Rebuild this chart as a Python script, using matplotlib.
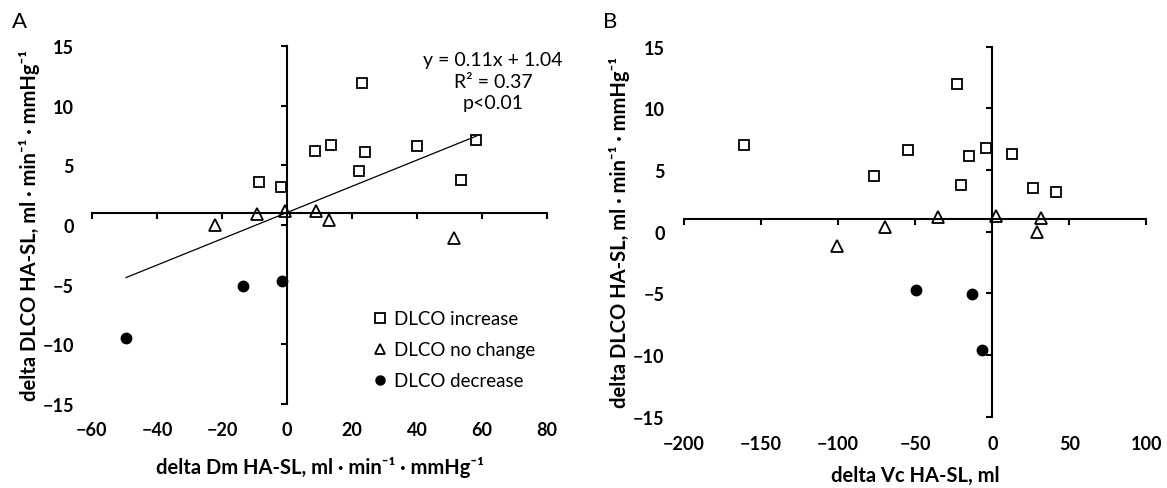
import matplotlib
matplotlib.use('Agg')
import matplotlib.pyplot as plt
import numpy as np

plt.rcParams['font.family'] = ['Lato', 'DejaVu Sans']

# panel A: delta Dm vs delta DLCO
a_inc_x = [-8.6, -1.9, 8.5, 13.7, 22.1, 23.2, 23.9, 39.9, 53.7, 58.3]
a_inc_y = [3.6, 3.2, 6.2, 6.7, 4.5, 11.9, 6.1, 6.6, 3.8, 7.1]
a_nc_x = [-22.0, -9.2, -0.5, 8.8, 12.8, 51.5]
a_nc_y = [0.0, 0.9, 1.2, 1.2, 0.4, -1.1]
a_dec_x = [-49.5, -13.6, -1.4]
a_dec_y = [-9.5, -5.1, -4.7]
slope, intercept = 0.11, 1.04

# panel B: delta Vc vs delta DLCO
b_inc_x = [-161, -76.8, -54.6, -22.6, -20.6, -15.2, -4.2, 13.1, 26.5, 41.2]
b_inc_y = [7.0, 4.5, 6.6, 12.0, 3.8, 6.1, 6.8, 6.3, 3.5, 3.2]
b_nc_x = [-100.6, -69.7, -35.5, 2.3, 29.1, 31.9]
b_nc_y = [-1.2, 0.4, 1.2, 1.3, 0.0, 1.1]
b_dec_x = [-49.6, -13.1, -6.6]
b_dec_y = [-4.7, -5.1, -9.6]

y_ticks = [-15, -10, -5, 0, 5, 10, 15]
a_xticks = [-60, -40, -20, 0, 20, 40, 60, 80]
b_xticks = [-200, -150, -100, -50, 0, 50, 100]

ylab = 'delta DLCO HA-SL, ml \u00b7 min\u207b\u00b9 \u00b7 mmHg\u207b\u00b9'

fig = plt.figure(figsize=(11.67, 4.89), dpi=100)
axA = fig.add_axes([0.0788, 0.1718, 0.3899, 0.7321])
axB = fig.add_axes([0.5861, 0.1462, 0.3963, 0.7563])


def style(ax, xticks, pad_x, pad_y):
    ax.set_xlim(xticks[0], xticks[-1])
    ax.set_ylim(-15, 15)
    ax.set_xticks(xticks)
    ax.set_yticks(y_ticks)
    # axes cross at x=0, y=1
    ax.spines['left'].set_position(('data', 0))
    ax.spines['bottom'].set_position(('data', 1))
    ax.spines[['top', 'right']].set_visible(False)
    ax.spines[['left', 'bottom']].set_linewidth(1.5)
    ax.tick_params(labelleft=False, labelbottom=False, direction='out',
                   length=4, width=1.5)
    # tick labels sit on the outer edges
    sx = ax.secondary_xaxis('bottom')
    sx.set_xticks(xticks)
    sx.spines['bottom'].set_visible(False)
    sx.tick_params(length=0, pad=pad_x, labelsize=13)
    sy = ax.secondary_yaxis('left')
    sy.set_yticks(y_ticks)
    sy.spines['left'].set_visible(False)
    sy.tick_params(length=0, pad=pad_y, labelsize=13)
    for lbl in sx.get_xticklabels() + sy.get_yticklabels():
        lbl.set_fontweight('bold')
    return sx, sy


mk = dict(linestyle='none', color='black')

# ---- A ----
sxA, syA = style(axA, a_xticks, 12, 13)
axA.plot(a_inc_x, a_inc_y, marker='s', ms=7.5, mfc='white', mew=1.3,
         label='DLCO increase', **mk)
axA.plot(a_nc_x, a_nc_y, marker='^', ms=8, mfc='white', mew=1.3,
         label='DLCO no change', **mk)
axA.plot(a_dec_x, a_dec_y, marker='o', ms=7.5, label='DLCO decrease', **mk)
all_x = np.array(a_inc_x + a_nc_x + a_dec_x)
fit_x = np.array([all_x.min(), all_x.max()])
axA.plot(fit_x, slope * fit_x + intercept, color='black', lw=0.9)
axA.text(0.881, 0.985, 'y = %.2fx + %.2f\nR\u00b2 = 0.37\np<0.01' % (slope, intercept),
         transform=axA.transAxes, ha='center', va='top', fontsize=14,
         linespacing=1.3)
leg = axA.legend(loc='upper left', bbox_to_anchor=(0.605, 0.283), frameon=False,
                 fontsize=13.5, handlelength=0.6, handletextpad=0.45,
                 labelspacing=0.75, borderaxespad=0)
for h in leg.legend_handles:
    h.set_markersize(6.5)
sxA.set_xlabel('delta Dm HA-SL, ml \u00b7 min\u207b\u00b9 \u00b7 mmHg\u207b\u00b9',
               fontsize=14.5, fontweight='bold', labelpad=13)
syA.set_ylabel(ylab, fontsize=14.5, fontweight='bold', labelpad=2)
fig.text(0.0163, 0.955, 'A', fontsize=16, ha='center', va='center')

# ---- B ----
sxB, syB = style(axB, b_xticks, 13, 14)
axB.plot(b_inc_x, b_inc_y, marker='s', ms=7.5, mfc='white', mew=1.3, **mk)
axB.plot(b_nc_x, b_nc_y, marker='^', ms=8, mfc='white', mew=1.3, **mk)
axB.plot(b_dec_x, b_dec_y, marker='o', ms=7.5, **mk)
sxB.set_xlabel('delta Vc HA-SL, ml', fontsize=14.5, fontweight='bold', labelpad=10)
syB.set_ylabel(ylab, fontsize=14.5, fontweight='bold', labelpad=2)
fig.text(0.5227, 0.955, 'B', fontsize=16, ha='center', va='center')

fig.savefig('out.png', dpi=100)
